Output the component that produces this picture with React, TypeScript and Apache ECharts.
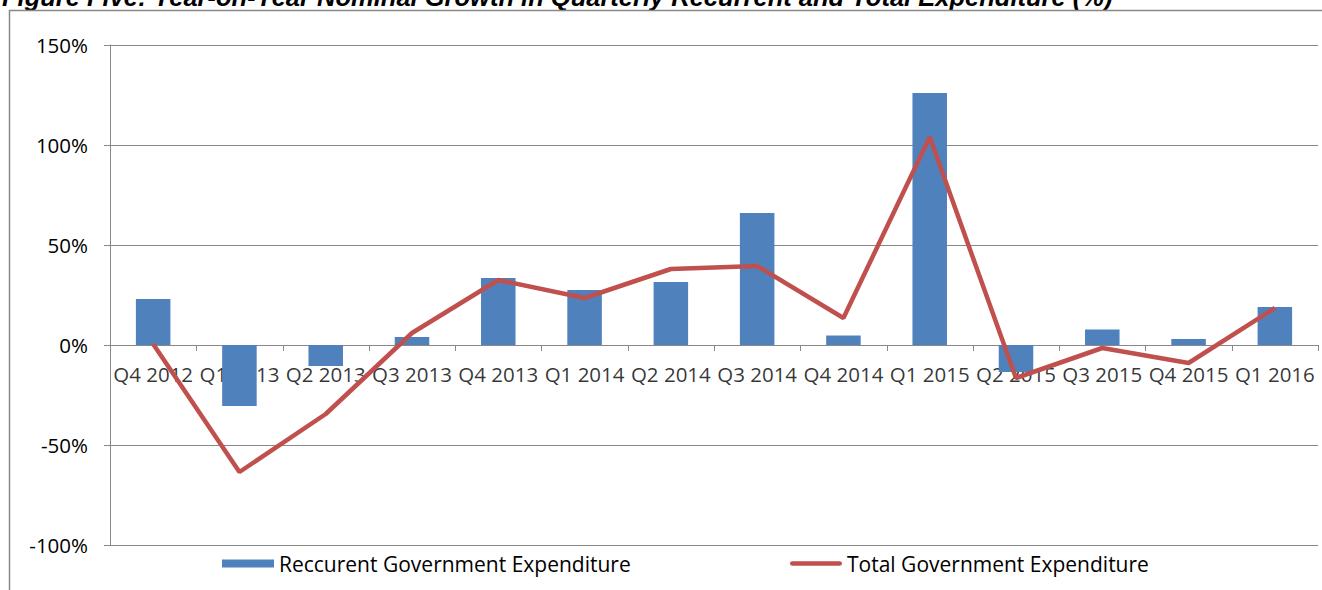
import React, { useEffect, useRef } from "react";
import * as echarts from "echarts";

const categories = [
  "Q4 2012", "Q1 2013", "Q2 2013", "Q3 2013", "Q4 2013", "Q1 2014", "Q2 2014",
  "Q3 2014", "Q4 2014", "Q1 2015", "Q2 2015", "Q3 2015", "Q4 2015", "Q1 2016",
];
const recurrent = [23, -30.5, -10.5, 4, 33.5, 27.5, 31.5, 66, 4.7, 126, -13.5, 7.7, 3, 19];
const total = [0.5, -63.5, -34.5, 6, 32.5, 23.5, 38, 39.5, 13.5, 104, -16.5, -1.5, -9, 18.5];
const titleText = "Figure Five: Year-on-Year Nominal Growth in Quarterly Recurrent and Total Expenditure (%)";
const seriesNames = ["Reccurent Government Expenditure", "Total Government Expenditure"];
const yTicks = { min: -100, max: 150, interval: 50 };

export default function App() {
  const ref = useRef<HTMLDivElement>(null);
  useEffect(() => {
    document.body.style.margin = "0";
    const chart = echarts.init(ref.current!, undefined, { renderer: "svg" });
    const font = "'Open Sans', 'Noto Sans', sans-serif";
    const legendCommon = {
      top: 553,
      padding: 0,
      itemWidth: 52,
      itemHeight: 8,
      itemGap: 0,
      textStyle: { fontFamily: font, fontSize: 21, color: "#000" },
    };
    chart.setOption({
      animation: false,
      backgroundColor: "#fff",
      grid: { left: 110, right: 4, top: 45, bottom: 45 },
      graphic: [
        {
          type: "text",
          x: 2,
          y: 10,
          style: {
            text: titleText,
            font: "italic bold 25.5px 'Liberation Sans', Arial, sans-serif",
            fill: "#000",
            verticalAlign: "bottom",
          },
        },
        {
          type: "polyline",
          shape: { points: [[9.5, 600], [9.5, 10.5], [1330, 10.5]] },
          style: { stroke: "#888", lineWidth: 1.5, fill: "none" },
        },
      ],
      legend: [
        {
          ...legendCommon,
          left: 222,
          data: [{ name: seriesNames[0], icon: "rect" }],
        },
        {
          ...legendCommon,
          left: 790,
          symbolKeepAspect: true,
          data: [
            {
              name: seriesNames[1],
              icon: "path://M2.5,0H52.5A2.5,2.5,0,0,1,52.5,5H2.5A2.5,2.5,0,0,1,2.5,0Z",
              itemStyle: { color: "#C0504D" },
            },
          ],
        },
      ],
      xAxis: {
        type: "category",
        data: categories,
        boundaryGap: true,
        axisLine: { show: false },
        axisTick: { show: false },
        axisLabel: { show: false },
        splitLine: { show: false },
      },
      yAxis: {
        type: "value",
        min: yTicks.min,
        max: yTicks.max,
        interval: yTicks.interval,
        axisLine: { show: true, lineStyle: { color: "#888", width: 1 } },
        axisTick: { show: true, length: 6, lineStyle: { color: "#888" } },
        axisLabel: { margin: 22, fontFamily: font, fontSize: 20.5, color: "#000", formatter: "{value}%" },
        splitLine: { show: true, lineStyle: { color: "#888", width: 1 } },
      },
      series: [
        {
          name: "categoryTicks",
          type: "custom",
          z: 1,
          silent: true,
          data: categories.map((c, i) => [i, 0]),
          renderItem: (params: any, api: any) => {
            const idx = api.value(0);
            const p = api.coord([idx, 0]);
            const w = api.size([1, 0])[0];
            const xs = [p[0] - w / 2];
            if (idx === categories.length - 1) xs.push(p[0] + w / 2);
            return {
              type: "group",
              children: xs.map((x) => ({
                type: "line",
                shape: { x1: Math.round(x) + 0.5, y1: p[1], x2: Math.round(x) + 0.5, y2: p[1] + 6 },
                style: { stroke: "#888", lineWidth: 1 },
              })),
            };
          },
        },
        {
          name: "categoryLabels",
          type: "scatter",
          z: 1,
          silent: true,
          symbolSize: 0,
          data: categories.map((c) => [c, 0]),
          label: {
            show: true,
            position: "bottom",
            distance: 18,
            fontFamily: font,
            fontSize: 20.5,
            color: "#000",
            formatter: (p: any) => p.value[0],
          },
        },
        {
          name: seriesNames[0],
          type: "bar",
          z: 2,
          data: recurrent,
          barWidth: "40%",
          itemStyle: { color: "#4F81BD" },
        },
        {
          name: seriesNames[1],
          type: "line",
          z: 3,
          data: total,
          symbol: "none",
          showSymbol: false,
          lineStyle: { color: "#C0504D", width: 4.5 },
          itemStyle: { color: "#C0504D" },
        },
      ],
    });
    return () => chart.dispose();
  }, []);
  return <div ref={ref} style={{ width: 1322, height: 590 }} />;
}
